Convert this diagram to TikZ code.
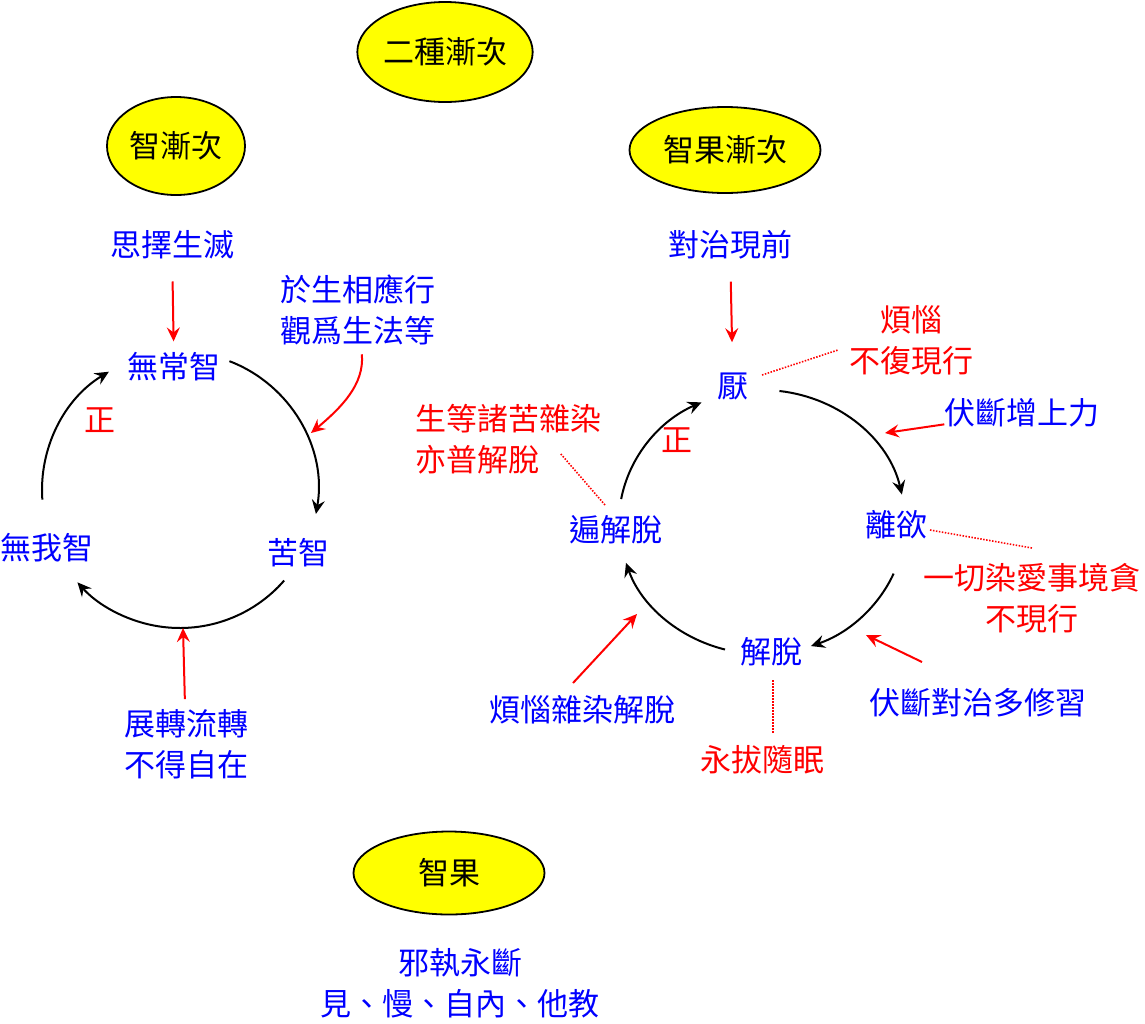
\documentclass[tikz,border=0pt]{standalone}
\usepackage{fontspec}
\newfontfamily\cjk{Noto Sans CJK TC}
\usetikzlibrary{arrows.meta}
\usetikzlibrary{shapes.geometric}
\tikzset{>=Stealth}
\definecolor{pblue}{RGB}{0,0,255}
\definecolor{pred}{RGB}{255,0,0}
\definecolor{pyellow}{RGB}{255,255,0}
\tikzstyle{oval} = [ellipse, draw=black, line width=1.8pt, fill=pyellow, inner sep=0, text=black]
\tikzstyle{wd} = [draw=none, inner sep=0, text=pblue]
\tikzstyle{rwd} = [draw=none, inner sep=0, text=pred]
\tikzstyle{cyc} = [-{Stealth[length=14pt, width=13pt, inset=5pt]}, line width=2pt, draw=black]
\tikzstyle{rarr} = [-{Stealth[length=14pt, width=13pt, inset=5pt]}, line width=2pt, draw=pred]
\tikzstyle{lead} = [draw=pred, line width=1.6pt, dash pattern=on 1.5pt off 1.5pt]

\begin{document}
\begin{tikzpicture}[x=1pt, y=1pt, every node/.style={font=\cjk\fontsize{31}{41}\selectfont, align=center}]
\useasboundingbox (0,0) rectangle (1145,-1023);
% headings
\node [oval, minimum width=175pt, minimum height=100pt] (two) at (445,-52) {二種漸次};
\node [oval, minimum width=138pt, minimum height=98pt] (zj) at (176,-146) {智漸次};
\node [oval, minimum width=191pt, minimum height=86pt] (zgj) at (725,-150) {智果漸次};
\node [oval, minimum width=191pt, minimum height=83pt] (zg) at (449,-873) {智果};

% left cycle
\coordinate (lc) at (180,-490);
\node [wd] (sz) at (172,-245) {思擇生滅};
\node [wd] (wc) at (174,-367) {無常智};
\node [wd] (gx) at (358,-310) {於生相應行\\觀爲生法等};
\node [rwd] (zl) at (100,-420) {正};
\node [wd] (kz) at (298,-553) {苦智};
\node [wd] (ww) at (47,-548) {無我智};
\node [wd] (zz) at (186,-744) {展轉流轉\\不得自在};
\draw [cyc] (lc) ++(69:138pt) arc [start angle=69, end angle=-10, radius=138pt];
\draw [cyc] (lc) ++(-41:138pt) arc [start angle=-41, end angle=-138, radius=138pt];
\draw [cyc] (lc) ++(184:138pt) arc [start angle=184, end angle=121, radius=138pt];
\coordinate (lr) at (311,-433);
\coordinate (lb) at (183,-628);
\draw [rarr, shorten <=22pt, shorten >=11pt] (sz) -- (wc);
\draw [rarr, shorten <=9pt] (gx) to [out=-85, in=40] (lr);
\draw [rarr, shorten <=10pt] (zz) -- (lb);

% right cycle
\coordinate (rc) at (762,-522);
\node [wd] (dz) at (730,-245) {對治現前};
\node [wd] (yan) at (733,-387) {厭};
\node [rwd] (fn1) at (911,-340) {煩惱\\不復現行};
\node [wd] (fd1) at (1022,-413) {伏斷增上力};
\node [rwd, anchor=west, align=left] (sd) at (415,-439) {生等諸苦雜染\\亦普解脫};
\node [rwd] (zr) at (677,-440) {正};
\node [wd] (bjt) at (616,-530) {遍解脫};
\node [wd] (ly) at (896,-525) {離欲};
\node [rwd] (yq) at (1032,-598) {一切染愛事境貪\\不現行};
\node [wd] (jt) at (771,-652) {解脫};
\node [wd] (fd2) at (978,-703) {伏斷對治多修習};
\node [wd] (fn2) at (582,-710) {煩惱雜染解脫};
\node [rwd] (ybs) at (762,-760) {永拔隨眠};
\draw [cyc] (rc) ++({143*cos(83)},{132*sin(83)}) arc [start angle=83, end angle=12, x radius=143pt, y radius=132pt];
\draw [cyc] (rc) ++({143*cos(-23)},{132*sin(-23)}) arc [start angle=-23, end angle=-70, x radius=143pt, y radius=132pt];
\draw [cyc] (rc) ++({143*cos(255)},{132*sin(255)}) arc [start angle=255, end angle=198, x radius=143pt, y radius=132pt];
\draw [cyc] (rc) ++({143*cos(170)},{132*sin(170)}) arc [start angle=170, end angle=115, x radius=143pt, y radius=132pt];
\coordinate (rt) at (885,-433);
\coordinate (rb) at (866,-635);
\coordinate (rl) at (637,-614);
\coordinate (fd2t) at (922,-662);
\coordinate (fn2t) at (573,-683);
\draw [rarr, shorten <=22pt, shorten >=31pt] (dz) -- (yan);
\draw [rarr] (fd1) -- (rt);
\draw [rarr] (fd2t) -- (rb);
\draw [rarr] (fn2t) -- (rl);
% dotted leaders
\coordinate (yana) at (762,-375);
\coordinate (fn1a) at (838,-350);
\coordinate (bjta) at (605,-505);
\coordinate (sda) at (560,-453);
\coordinate (lya) at (930,-530);
\coordinate (yqa) at (1032,-548);
\coordinate (jta) at (773,-680);
\coordinate (ybsa) at (773,-733);
\draw [lead] (yana) -- (fn1a);
\draw [lead] (bjta) -- (sda);
\draw [lead] (lya) -- (yqa);
\draw [lead] (jta) -- (ybsa);

% result
\node [wd] (xz) at (460,-983) {邪執永斷\\見、慢、自內、他教};
\end{tikzpicture}
\end{document}
